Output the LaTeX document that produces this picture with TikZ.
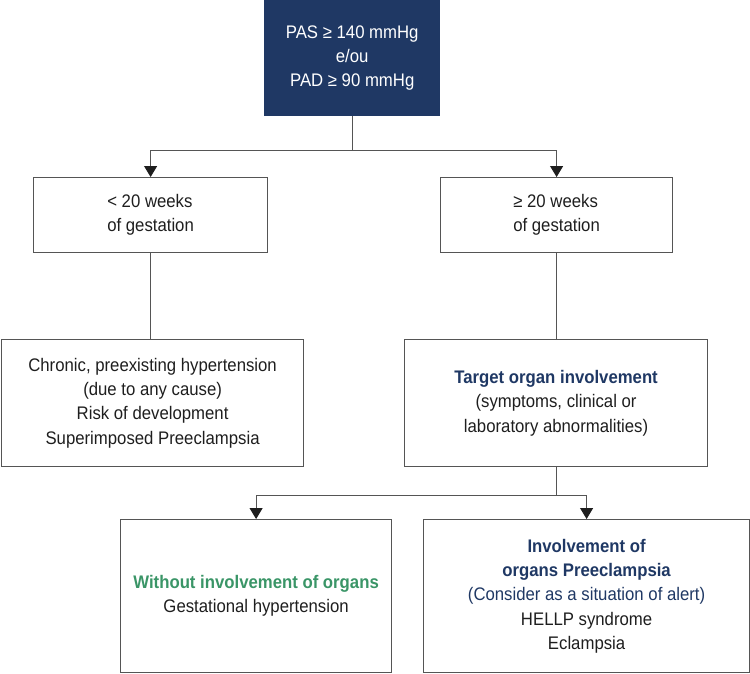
\documentclass[tikz,border=0pt]{standalone}
\usepackage{fontspec}
\setmainfont[FakeStretch=0.92]{Liberation Sans}
\usetikzlibrary{arrows.meta}
\definecolor{navy}{HTML}{1F3864}
\definecolor{okgreen}{HTML}{3A9567}
\definecolor{linegray}{HTML}{555555}
\definecolor{txt}{HTML}{1E1E1E}
\begin{document}
\begin{tikzpicture}[x=1pt,y=1pt,
  every node/.style={font=\fontsize{18.2}{24.3}\selectfont, text=txt},
  box/.style={draw=linegray, line width=1.2pt, anchor=north west, inner sep=0pt},
  topbox/.style={fill=navy, draw=none, anchor=north west, inner sep=0pt, text=white},
  conn/.style={draw=linegray, line width=1pt},
  arr/.style={conn, -{Triangle[width=13pt,length=11pt,color=txt]}}]
\useasboundingbox (0,0) rectangle (750,-673);

\node[topbox, minimum width=176pt, minimum height=116pt, align=center] (top) at (264,0)
  {PAS ≥ 140 mmHg\\e/ou\\PAD ≥ 90 mmHg};

\node[box, minimum width=234pt, minimum height=75pt, align=left] (w1) at (33,-177)
  {< 20 weeks\\of gestation};
\node[box, minimum width=232pt, minimum height=75pt, align=left] (w2) at (440,-177)
  {≥ 20 weeks\\of gestation};

\node[box, minimum width=302pt, minimum height=127pt, align=center] (chr) at (1,-339)
  {Chronic, preexisting hypertension\\(due to any cause)\\Risk of development\\Superimposed Preeclampsia};
\node[box, minimum width=303pt, minimum height=127pt, align=center] (tgt) at (404,-339)
  {\textcolor{navy}{\bfseries Target organ involvement}\\(symptoms, clinical or\\laboratory abnormalities)};

\node[box, minimum width=271pt, minimum height=153pt, align=center] (b1) at (120,-519)
  {\textcolor{okgreen}{\bfseries Without involvement of organs}\\Gestational hypertension};
\node[box, minimum width=326pt, minimum height=153pt, align=center] (b2) at (423,-519)
  {\textcolor{navy}{\bfseries Involvement of}\\\textcolor{navy}{\bfseries organs Preeclampsia}\\\textcolor{navy}{(Consider as a situation of alert)}\\HELLP syndrome\\Eclampsia};

\coordinate (j1) at (top.south |- 0,-150);
\draw[conn] (top.south) -- (j1);
\draw[arr] (j1) -| (w1.north);
\draw[arr] (j1) -| (w2.north);

\draw[conn] (w1.south -| 150,0) -- (chr.north -| 150,0);
\draw[conn] (w2.south) -- (w2.south |- tgt.north);

\coordinate (j2) at (556,-495);
\draw[conn] (tgt.south -| j2) -- (j2);
\draw[arr] (j2) -| (b1.north);
\draw[arr] (j2) -| (b2.north);
\end{tikzpicture}
\end{document}
